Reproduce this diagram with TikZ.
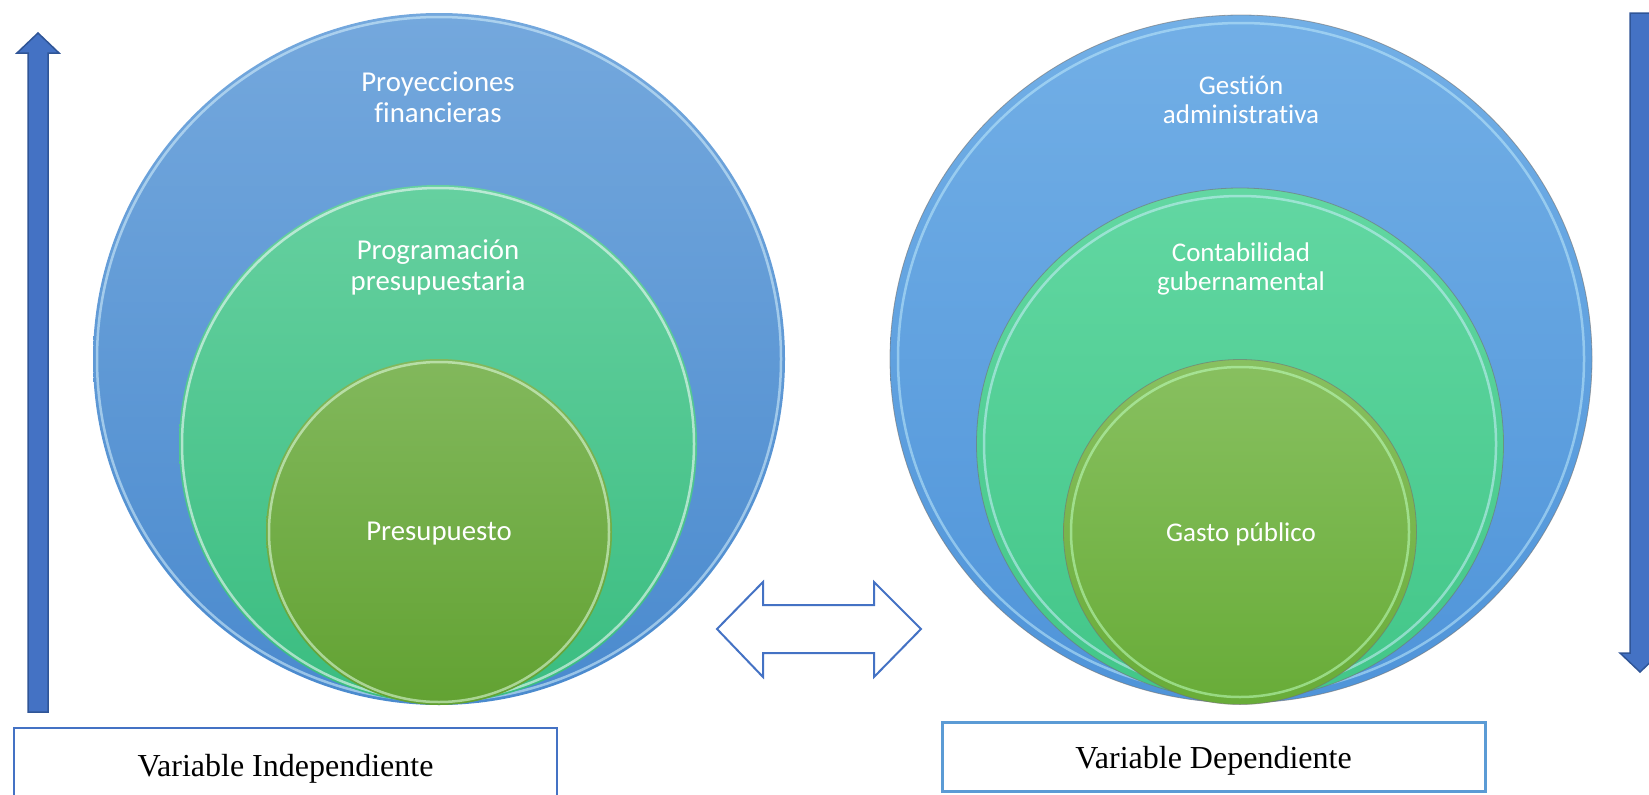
\documentclass[tikz,border=0pt]{standalone}
\usepackage{fontspec}
\newfontfamily\calib[Ligatures=NoCommon,RawFeature={-liga;-dlig}]{Carlito}
\newfontfamily\timesf{Liberation Serif}
\usetikzlibrary{shapes.geometric}

% palette
\definecolor{lbtop}{HTML}{74A8DD}
\definecolor{lbbot}{HTML}{4A8ACE}
\definecolor{lttop}{HTML}{66D0A0}
\definecolor{ltbot}{HTML}{3ABD80}
\definecolor{lgtop}{HTML}{82B85C}
\definecolor{lgbot}{HTML}{62A232}
\definecolor{rbtop}{HTML}{72AFE6}
\definecolor{rbbot}{HTML}{4F94D9}
\definecolor{rttop}{HTML}{62D7A2}
\definecolor{rtbot}{HTML}{42C688}
\definecolor{rgtop}{HTML}{88C060}
\definecolor{rgbot}{HTML}{68AC38}
\definecolor{arrowfill}{HTML}{4472C4}
\definecolor{arrowedge}{HTML}{2F5597}
\definecolor{boxleft}{HTML}{4472C4}
\definecolor{boxright}{HTML}{5B9BD5}

\begin{document}
\begin{tikzpicture}[x=1pt,y=-1pt,
  disc/.style={circle,inner sep=0pt,draw=none},
  oval/.style={ellipse,inner sep=0pt,draw=none},
  lbl/.style={text=white,align=center,inner sep=0pt},
  lfont/.style={font=\calib\fontsize{28.8}{31}\selectfont},
  rfont/.style={font=\calib\fontsize{27}{29}\selectfont},
  varbox/.style={draw,fill=white,inner sep=0pt,
    font=\timesf\fontsize{32}{36}\selectfont},
  bigarrow/.style={fill=arrowfill,draw=arrowedge,line width=1.5pt,line join=miter},
  linkarrow/.style={draw=arrowfill,line width=2pt,line join=miter,fill=white},
  softrim/.style={line width=2.5pt,opacity=.55},
  darkrim/.style={draw=black!55,line width=.8pt,opacity=.6}]

\useasboundingbox (0,0) rectangle (1649,795);
\clip (0,0) rectangle (1649,795);

% ---------- left group of nested discs ----------
\node[disc,minimum size=692pt,top color=lbtop,bottom color=lbbot] (LA) at (439,359) {};
\draw[softrim,color=cyan!15] (LA.center) circle[radius=342pt];
\node[disc,minimum size=518pt,top color=lttop,bottom color=ltbot] (LB) at (438,444) {};
\draw[softrim,color=white] (LB.center) circle[radius=256pt];
\node[disc,minimum size=346pt,top color=lgtop,bottom color=lgbot] (LC) at (439,532) {};
\draw[softrim,color=green!10!white] (LC.center) circle[radius=170pt];

\node[lbl,lfont] (LAt) at (438,97) {Proyecciones\\financieras};
\node[lbl,lfont] (LBt) at (438,267) {Programación\\presupuestaria};
\node[lbl,lfont,anchor=base] (LCt) at (439,540.7) {Presupuesto};

% ---------- right group of nested ovals ----------
\node[oval,minimum width=702pt,minimum height=688pt,top color=rbtop,bottom color=rbbot] (RA) at (1241,359) {};
\draw[darkrim] (RA.center) ellipse[x radius=351pt,y radius=344pt];
\draw[softrim,color=cyan!25!white] (RA.center) ellipse[x radius=343pt,y radius=336pt];
\node[oval,minimum width=527pt,minimum height=512pt,top color=rttop,bottom color=rtbot] (RB) at (1240,444) {};
\draw[darkrim] (RB.center) ellipse[x radius=263.5pt,y radius=256pt];
\draw[softrim,color=cyan!20!white] (RB.center) ellipse[x radius=256pt,y radius=248pt];
\node[oval,minimum width=353pt,minimum height=345pt,top color=rgtop,bottom color=rgbot] (RC) at (1240,532) {};
\draw[darkrim] (RC.center) ellipse[x radius=176.5pt,y radius=172.5pt];
\draw[softrim,color=green!25!white] (RC.center) ellipse[x radius=169pt,y radius=165pt];

\node[lbl,rfont] (RAt) at (1241,100) {Gestión\\administrativa};
\node[lbl,rfont] (RBt) at (1241,269) {Contabilidad\\gubernamental};
\node[lbl,rfont,anchor=base] (RCt) at (1241,541.7) {Gasto público};

% ---------- two-way arrow between the groups ----------
\draw[linkarrow] (717,629) -- (763,582) -- (763,605) -- (874,605) -- (874,582)
  -- (921,629) -- (874,677) -- (874,653) -- (763,653) -- (763,677) -- cycle;

% ---------- vertical block arrows ----------
\draw[bigarrow] (28,712) -- (28,53) -- (17,53) -- (38,33) -- (59,53) -- (48,53) -- (48,712) -- cycle;
\draw[bigarrow] (1630,13) -- (1630,653) -- (1620,653) -- (1640,672) -- (1660,653) -- (1650,653) -- (1650,13) -- cycle;

% ---------- variable captions ----------
\node[varbox,draw=boxleft,line width=2.5pt,minimum width=543pt,minimum height=74pt,
  text height=30pt,text depth=8pt] (VI) at (285.5,765) {Variable Independiente};
\node[varbox,draw=boxright,line width=3pt,minimum width=543pt,minimum height=69pt,
  text height=30pt,text depth=6.4pt] (VD) at (1213.5,756.5) {Variable Dependiente};
\end{tikzpicture}
\end{document}
